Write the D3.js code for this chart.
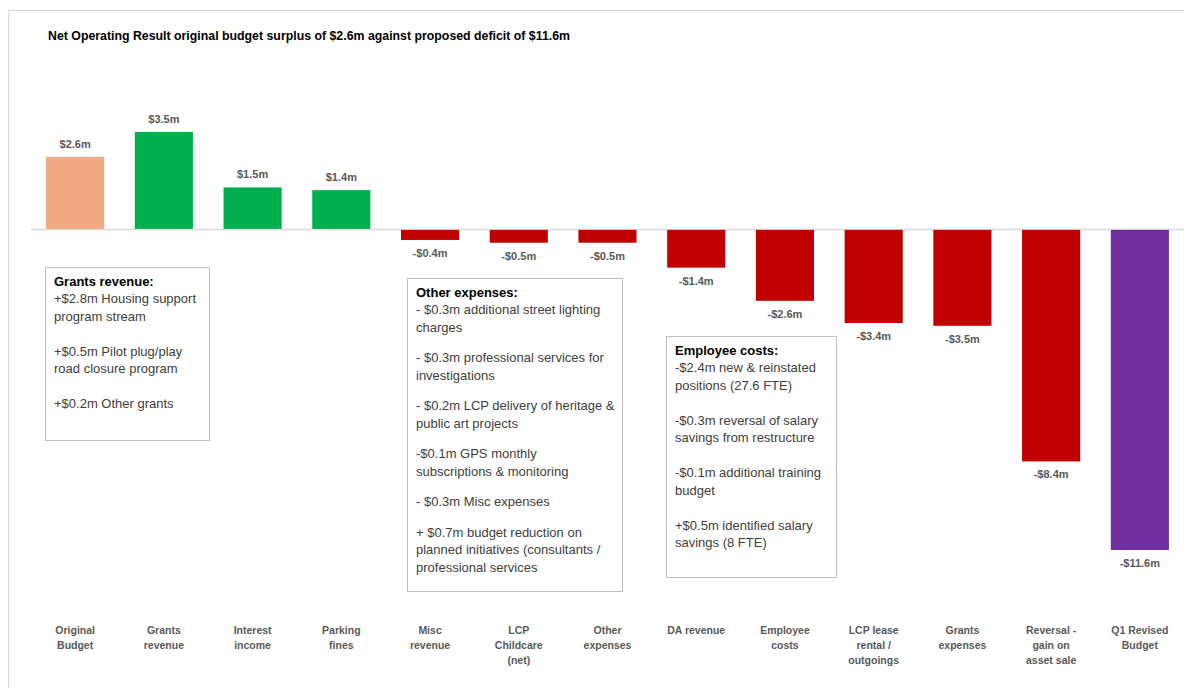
<!DOCTYPE html>
<html>
<head>
<meta charset="utf-8">
<script src="https://cdn.jsdelivr.net/npm/d3@7"></script>
<style>
  body { margin: 0; background: #fff; }
  svg { display: block; }
</style>
</head>
<body>
<div id="chart"></div>
<script>
// chart values
var categories = ["Original\nBudget", "Grants\nrevenue", "Interest\nincome", "Parking\nfines", "Misc\nrevenue",
    "LCP\nChildcare\n(net)", "Other\nexpenses", "DA revenue", "Employee\ncosts", "LCP lease\nrental /\noutgoings",
    "Grants\nexpenses", "Reversal -\ngain on\nasset sale", "Q1 Revised\nBudget"];
var values = [2.6, 3.5, 1.5, 1.4, -0.4, -0.5, -0.5, -1.4, -2.6, -3.4, -3.5, -8.4, -11.6];
var kinds = ["start", "up", "up", "up", "down", "down", "down", "down", "down", "down", "down", "down", "end"];

var title = "Net Operating Result original budget surplus of $2.6m against proposed deficit of $11.6m";

var notesGrants = ["Grants revenue:", "+$2.8m Housing support", "program stream", "",
    "+$0.5m Pilot plug/play", "road closure program", "", "+$0.2m Other grants"];
var notesOther = ["Other expenses:", "- $0.3m additional street lighting", "charges", "",
    "- $0.3m professional services for", "investigations", "",
    "- $0.2m LCP delivery of heritage &", "public art projects", "",
    "-$0.1m GPS monthly", "subscriptions & monitoring", "",
    "- $0.3m Misc expenses", "",
    "+ $0.7m budget reduction on", "planned initiatives (consultants /", "professional services"];
var notesEmployee = ["Employee costs:", "-$2.4m new & reinstated", "positions (27.6 FTE)", "",
    "-$0.3m reversal of salary", "savings from restructure", "",
    "-$0.1m additional training", "budget", "",
    "+$0.5m identified salary", "savings (8 FTE)"];

var width = 1184, height = 688;
var colors = { start: "#F1A983", up: "#00B050", down: "#C00000", end: "#7030A0" };
var narrow = "'Liberation Sans Narrow', 'Arial Narrow', 'Liberation Sans', sans-serif";
var body = "'Liberation Sans', Arial, sans-serif";

var svg = d3.select("#chart").append("svg")
    .attr("width", width)
    .attr("height", height);

// frame
svg.append("path")
    .attr("d", "M8.5,688 L8.5,10.5 L1184,10.5")
    .attr("fill", "none")
    .attr("stroke", "#d9d9d9")
    .attr("stroke-width", 1);

svg.append("text")
    .attr("x", 48)
    .attr("y", 40)
    .attr("textLength", 522)
    .attr("lengthAdjust", "spacingAndGlyphs")
    .style("font-family", narrow)
    .style("font-weight", "bold")
    .style("font-size", "13.5px")
    .attr("fill", "#000")
    .text(title);

var x = d3.scaleBand()
    .domain(categories)
    .range([31, 1184])
    .paddingInner(0.345)
    .paddingOuter(0.17);

var y = d3.scaleLinear()
    .domain([-11.6, 3.5])
    .range([550, 132]);

// zero line
svg.append("line")
    .attr("x1", 31)
    .attr("x2", 1184)
    .attr("y1", y(0) + 0.5)
    .attr("y2", y(0) + 0.5)
    .attr("stroke", "#d9d9d9")
    .attr("stroke-width", 1.5);

var bars = svg.append("g").selectAll("rect")
    .data(values)
    .enter().append("rect")
    .attr("x", function(d, i) { return x(categories[i]); })
    .attr("width", x.bandwidth())
    .attr("y", function(d) { return d > 0 ? y(d) : y(0) + 1; })
    .attr("height", function(d) { return Math.abs(y(d) - y(0)) - (d > 0 ? 0 : 1); })
    .attr("fill", function(d, i) { return colors[kinds[i]]; });

var fmt = function(d) { return (d < 0 ? "-$" : "$") + Math.abs(d).toFixed(1) + "m"; };

svg.append("g").selectAll("text")
    .data(values)
    .enter().append("text")
    .attr("x", function(d, i) { return x(categories[i]) + x.bandwidth() / 2; })
    .attr("y", function(d) { return d > 0 ? y(d) - 13 : y(d) + 13; })
    .attr("text-anchor", "middle")
    .attr("dominant-baseline", "central")
    .style("font-family", narrow)
    .style("font-weight", "bold")
    .style("font-size", "11px")
    .attr("fill", "#595959")
    .text(fmt);

// category labels
var cat = svg.append("g").selectAll("text")
    .data(categories)
    .enter().append("text")
    .attr("text-anchor", "middle")
    .attr("y", 630)
    .style("font-family", narrow)
    .style("font-weight", "bold")
    .style("font-size", "10.5px")
    .attr("fill", "#595959");

cat.each(function(d) {
    var t = d3.select(this);
    d.split("\n").forEach(function(line, k) {
        t.append("tspan")
            .attr("x", x(d) + x.bandwidth() / 2)
            .attr("y", 630 + k * 15)
            .attr("dominant-baseline", "central")
            .text(line);
    });
});

function noteBox(lines, bx, by, bw, bh, gap) {
    var g = svg.append("g");
    g.append("rect")
        .attr("x", bx + 0.5)
        .attr("y", by + 0.5)
        .attr("width", bw)
        .attr("height", bh)
        .attr("fill", "#fff")
        .attr("stroke", "#bfbfbf");
    var ty = by + 14;
    lines.forEach(function(line, k) {
        if (line == "") {
            ty += gap;
            return;
        }
        g.append("text")
            .attr("x", bx + 9)
            .attr("y", ty)
            .attr("dominant-baseline", "central")
            .style("font-family", body)
            .style("font-weight", k == 0 ? "bold" : "normal")
            .style("font-size", "13px")
            .attr("fill", k == 0 ? "#000" : "#404040")
            .text(line);
        ty += 17.5;
    });
}

noteBox(notesGrants, 45, 267, 164, 173, 17.5);
noteBox(notesOther, 407, 278, 215, 313, 13);
noteBox(notesEmployee, 666, 336, 170, 241, 17.5);
</script>
</body>
</html>
